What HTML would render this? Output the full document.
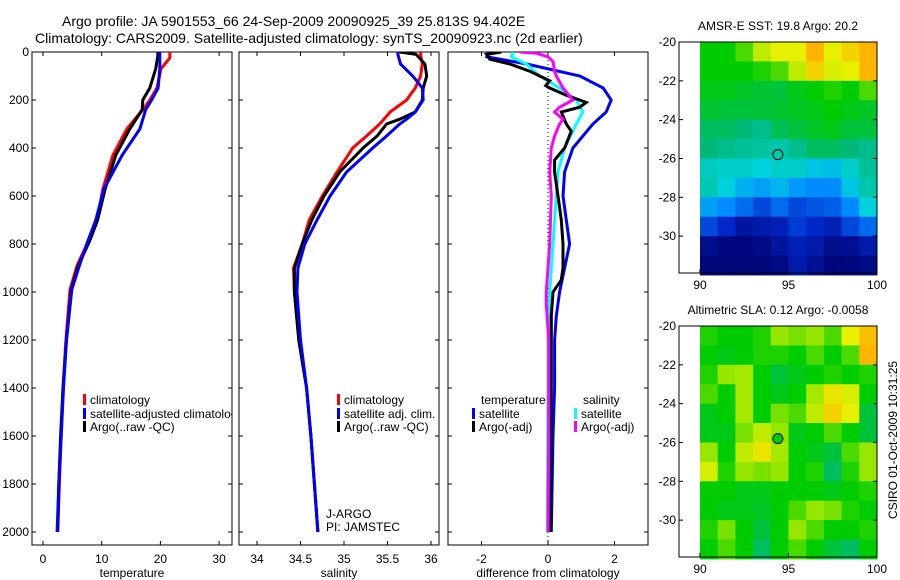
<!DOCTYPE html>
<html><head><meta charset="utf-8">
<style>
html,body{margin:0;padding:0;background:#fff;}
svg{display:block;font-family:"Liberation Sans",sans-serif;}
text{fill:#000;}
</style></head>
<body>
<svg id="fig" width="900" height="580" viewBox="0 0 900 580" xmlns="http://www.w3.org/2000/svg">
<defs>
<clipPath id="c1"><rect x="32" y="52" width="200" height="493"/></clipPath>
<clipPath id="c2"><rect x="239" y="52" width="200" height="493"/></clipPath>
<clipPath id="c3"><rect x="448" y="52" width="200" height="493"/></clipPath>
</defs>
<text x="62" y="26" font-size="14">Argo profile: JA 5901553_66 24-Sep-2009 20090925_39 25.813S 94.402E</text>
<text x="35" y="43" font-size="14">Climatology: CARS2009. Satellite-adjusted climatology: synTS_20090923.nc (2d earlier)</text>
<g id="g1"></g>
<g id="g2"></g>
<g id="g3"></g>
<g id="m1"></g>
<g id="m2"></g>
<text transform="translate(897,440) rotate(-90)" text-anchor="middle" font-size="12">CSIRO 01-Oct-2009 10:31:25</text>
</svg>
<script>
// ---- data ----
const tDepth = [0,25,70,150,200,240,320,430,570,700,790,890,990,1200,1400,1600,1800,2000];
const tClim  = [21.6,21.6,20.1,19.4,18.2,17.0,14.3,11.9,10.2,9.2,7.7,5.8,4.6,3.9,3.4,3.1,2.8,2.5];
const tSat   = [19.9,19.9,19.9,19.6,18.5,17.5,16.5,13.5,10.4,9.0,7.6,6.2,4.9,4.0,3.5,3.1,2.7,2.4];
const tArgo  = [19.6,19.5,19.2,18.2,17.0,16.9,14.8,12.4,10.6,9.3,7.9,6.0,4.8,4.0,3.4,3.0,2.7,2.5];
const sDepth = [0,10,50,100,150,200,250,280,300,350,400,500,600,700,800,900,1000,1200,1400,1600,1800,2000];
const sClim  = [35.88,35.88,35.9,35.88,35.82,35.72,35.53,35.46,35.41,35.26,35.1,34.92,34.75,34.6,34.52,34.42,34.43,34.48,34.57,34.62,34.66,34.70];
const sSat   = [35.62,35.62,35.65,35.79,35.9,35.91,35.82,35.72,35.64,35.49,35.33,35.03,34.84,34.69,34.55,34.47,34.46,34.5,34.57,34.62,34.66,34.70];
const sArgo  = [35.64,35.83,35.93,35.95,35.91,35.9,35.82,35.64,35.49,35.38,35.22,34.95,34.77,34.63,34.52,34.43,34.43,34.48,34.57,34.62,34.66,34.70];
const dDepthA = [0,10,30,50,80,100,120,140,150,180,200,210,230,250,300,330,400,450,500,600,700,800,900,950,1000,1100,1400,2000];
const dTempArgo = [-1.4,-1.85,-1.75,-1.15,-0.55,-0.25,0.05,-0.07,0.05,0.55,0.95,1.15,0.95,0.4,0.55,0.7,0.5,0.2,0.2,0.3,0.4,0.45,0.45,0.4,0.15,0.1,0.1,0.08];
const dDepthB = [0,20,50,100,150,200,250,300,400,500,600,700,800,900,1000,1100,1200,1400,1600,2000];
const dTempSat = [-1.8,-1.84,-0.64,0.96,1.66,1.9,1.75,1.35,0.75,0.5,0.45,0.55,0.65,0.5,0.35,0.25,0.2,0.2,0.15,0.1];
const dSalSat  = [-1.05,-1.1,-0.65,-0.25,0.35,0.85,1.05,0.85,0.5,0.3,0.25,0.2,0.15,0.1,0.05,0.02,0,0,-0.01,-0.02];
const dDepthC = [0,5,20,40,80,100,150,200,230,250,280,300,350,400,500,600,800,1000,1050,1200,1600,2000];
const dSalArgo = [-0.85,-0.35,0,0.15,0.2,0.25,0.45,0.75,0.35,0.2,0.45,0.35,0.2,0.1,0.05,0.1,0.05,-0.05,-0.05,0.02,0.02,0];
const depthTicks = [0,200,400,600,800,1000,1200,1400,1600,1800,2000];
const tTicks = [0,10,20,30];
const sTicks = [34,34.5,35,35.5,36];
const dTicks = [-2,0,2];
const latTicks = [-20,-22,-24,-26,-28,-30];
const lonTicks = [90,95,100];
const sstGrid = [
[0.6,0.6,0.65,0.75,0.8,0.8,0.9,0.8,0.85,0.9],
[0.6,0.6,0.6,0.62,0.65,0.75,0.85,0.78,0.8,0.9],
[0.58,0.58,0.57,0.56,0.55,0.58,0.6,0.62,0.6,0.65],
[0.56,0.55,0.55,0.55,0.56,0.57,0.58,0.6,0.58,0.57],
[0.52,0.52,0.5,0.48,0.53,0.55,0.57,0.58,0.55,0.55],
[0.5,0.48,0.47,0.46,0.45,0.48,0.52,0.52,0.5,0.48],
[0.43,0.42,0.42,0.4,0.42,0.42,0.38,0.37,0.42,0.47],
[0.44,0.4,0.35,0.33,0.36,0.32,0.3,0.3,0.38,0.45],
[0.33,0.3,0.25,0.2,0.25,0.2,0.22,0.23,0.3,0.4],
[0.2,0.15,0.08,0.1,0.12,0.18,0.15,0.12,0.2,0.25],
[0.05,0.03,0.02,0.04,0.08,0.12,0.1,0.05,0.06,0.1],
[0.02,0.02,0.02,0.02,0.04,0.1,0.06,0.02,0.03,0.04]];
const slaGrid = [
[0.62,0.6,0.6,0.62,0.7,0.68,0.7,0.65,0.8,0.88],
[0.6,0.58,0.6,0.62,0.62,0.6,0.65,0.6,0.65,0.9],
[0.62,0.7,0.72,0.6,0.55,0.58,0.6,0.62,0.6,0.62],
[0.65,0.6,0.72,0.6,0.58,0.6,0.72,0.82,0.78,0.6],
[0.58,0.6,0.72,0.6,0.68,0.65,0.75,0.85,0.8,0.55],
[0.58,0.58,0.68,0.75,0.7,0.58,0.6,0.65,0.6,0.55],
[0.7,0.6,0.75,0.82,0.72,0.6,0.58,0.55,0.65,0.7],
[0.78,0.62,0.7,0.68,0.7,0.6,0.62,0.52,0.62,0.7],
[0.6,0.6,0.58,0.58,0.6,0.6,0.6,0.58,0.6,0.62],
[0.6,0.58,0.58,0.57,0.6,0.65,0.7,0.68,0.62,0.6],
[0.62,0.68,0.6,0.55,0.6,0.7,0.65,0.6,0.6,0.62],
[0.6,0.65,0.6,0.52,0.6,0.65,0.6,0.55,0.52,0.6]];
const argoLon = 94.4, argoLat = -25.8;

// ---- helpers ----
const NS = "http://www.w3.org/2000/svg";
function mk(parent, tag, attrs, txt){
  const e = document.createElementNS(NS, tag);
  for (const k in attrs) e.setAttribute(k, attrs[k]);
  if (txt !== undefined) e.textContent = txt;
  parent.appendChild(e); return e;
}
const yD = d => 52 + d*0.24;

function panel(g, x0, x1, xFn, ticks, fmt, xlabel, clip, ylabels){
  const fr = mk(g,'rect',{x:x0,y:52,width:x1-x0,height:493,fill:'none',stroke:'#000','stroke-width':1});
  
  
  depthTicks.forEach(d=>{
    const y = yD(d);
    mk(g,'line',{x1:x0,y1:y,x2:x0+4,y2:y,stroke:'#000'});
    mk(g,'line',{x1:x1-4,y1:y,x2:x1,y2:y,stroke:'#000'});
    if (ylabels){
      const t = mk(g,'text',{x:x0-3,y:y+4,'font-size':12,'text-anchor':'end'}, String(d));
      
      
    }
  });
  ticks.forEach(v=>{
    const x = xFn(v);
    mk(g,'line',{x1:x,y1:545,x2:x,y2:541,stroke:'#000'});
    mk(g,'line',{x1:x,y1:52,x2:x,y2:56,stroke:'#000'});
    const t = mk(g,'text',{x:x,y:563,'font-size':12,'text-anchor':'middle'}, fmt(v));
    
    
  });
  const xl = mk(g,'text',{x:(x0+x1)/2,y:577,'font-size':12,'text-anchor':'middle'}, xlabel);
  
  
  return mk(g,'g',{'clip-path':'url(#'+clip+')'});
}
function line(g, xs, ds, xFn, color, w, name){
  const pts = xs.map((v,i)=>xFn(v).toFixed(1)+','+yD(ds[i]).toFixed(1)).join(' ');
  const p = mk(g,'polyline',{points:pts,fill:'none',stroke:color,'stroke-width':w,'stroke-linejoin':'miter'});
  
  
}
function legend(g, x, y, color, label){
  mk(g,'rect',{x:x,y:y-10,width:3,height:11,fill:color});
  const t = mk(g,'text',{x:x+7,y:y,'font-size':12}, label);
  
  
}

// Temperature
const xT = v => 43 + v*5.87;
const g1 = document.getElementById('g1');
const c1 = panel(g1, 32, 232, xT, tTicks, v=>String(v), 'temperature', 'c1', true);
line(c1, tClim, tDepth, xT, '#ff0000', 3, 'temp-climatology-line');
line(c1, tArgo, tDepth, xT, '#000000', 3, 'temp-argo-line');
line(c1, tSat, tDepth, xT, '#0000ff', 3, 'temp-satellite-line');
legend(c1, 83, 404, '#ff0000', 'climatology');
legend(c1, 83, 418, '#0000ff', 'satellite-adjusted climatology');
legend(c1, 83, 431, '#000000', 'Argo(..raw -QC)');

// Salinity
const xS = v => 257 + (v-34)*87;
const g2 = document.getElementById('g2');
const c2 = panel(g2, 239, 439, xS, sTicks, v=>String(v), 'salinity', 'c2', false);
line(c2, sClim, sDepth, xS, '#ff0000', 3, 'sal-climatology-line');
line(c2, sArgo, sDepth, xS, '#000000', 3, 'sal-argo-line');
line(c2, sSat, sDepth, xS, '#0000ff', 3, 'sal-satellite-line');
legend(c2, 337, 404, '#ff0000', 'climatology');
legend(c2, 337, 418, '#0000ff', 'satellite adj. clim.');
legend(c2, 337, 431, '#000000', 'Argo(..raw -QC)');
const j1 = mk(c2,'text',{x:326,y:518,'font-size':12},'J-ARGO');


const j2 = mk(c2,'text',{x:326,y:531,'font-size':12},'PI: JAMSTEC');



// Differences
const xDf = v => 548 + v*33.25;
const g3 = document.getElementById('g3');
const c3 = panel(g3, 448, 648, xDf, dTicks, v=>String(v), 'difference from climatology', 'c3', false);
const z = mk(c3,'line',{x1:xDf(0),y1:52,x2:xDf(0),y2:545,stroke:'#000','stroke-dasharray':'1,3'});


line(c3, dTempSat, dDepthB, xDf, '#0000ff', 3, 'diff-temp-satellite-line');
line(c3, dSalSat, dDepthB, xDf, '#00ffff', 3, 'diff-sal-satellite-line');
line(c3, dTempArgo, dDepthA, xDf, '#000000', 3, 'diff-temp-argo-line');
line(c3, dSalArgo, dDepthC, xDf, '#ff00ff', 3, 'diff-sal-argo-line');
const lt = mk(c3,'text',{x:481,y:404,'font-size':12},'temperature');


const ls = mk(c3,'text',{x:583,y:404,'font-size':12},'salinity');


legend(c3, 472, 418, '#0000ff', 'satellite');
legend(c3, 472, 431, '#000000', 'Argo(-adj)');
legend(c3, 574, 418, '#00ffff', 'satellite');
legend(c3, 574, 431, '#ff00ff', 'Argo(-adj)');

// Maps
const stops = [[0,[0,0,110]],[0.15,[0,40,200]],[0.3,[0,140,255]],[0.4,[0,210,220]],[0.5,[0,185,120]],[0.6,[0,205,0]],[0.7,[150,230,0]],[0.8,[230,240,0]],[0.9,[255,180,0]],[1,[240,100,0]]];
function cmap(v){
  for (let i=1;i<stops.length;i++){
    if (v<=stops[i][0]){
      const a=stops[i-1], b=stops[i], f=(v-a[0])/(b[0]-a[0]);
      const c=a[1].map((q,k)=>Math.round(q+(b[1][k]-q)*f));
      return 'rgb('+c.join(',')+')';
    }
  }
  return 'rgb(240,100,0)';
}
function map(id, top, bottom, grid, title, markerFill){
  const g = document.getElementById(id);
  const pxDeg = (bottom-top)/11.9;
  const xL = lon => 700 + (lon-90)*17.7;
  const yL = lat => top + (-20-lat)*pxDeg;
  grid.forEach((row,r)=>row.forEach((v,c)=>{
    const lon0 = 90 + c, lat0 = -20 - r;
    const cell = mk(g,'rect',{x:xL(lon0),y:yL(lat0),width:xL(lon0+1)-xL(lon0)+0.5,height:yL(lat0-1)-yL(lat0)+0.5,fill:cmap(v)});
    
    
  }));
  mk(g,'rect',{x:700,y:yL(-31.9),width:177,height:bottom-yL(-31.9),fill:cmap(grid[grid.length-1][0])});
  const fr = mk(g,'rect',{x:679,y:top,width:198,height:bottom-top,fill:'none',stroke:'#000'});
  
  
  latTicks.forEach(l=>{
    const y = yL(l);
    mk(g,'line',{x1:679,y1:y,x2:683,y2:y,stroke:'#000'});
    mk(g,'line',{x1:873,y1:y,x2:877,y2:y,stroke:'#000'});
    const t = mk(g,'text',{x:676,y:y+4,'font-size':12,'text-anchor':'end'}, String(l));
    
    
  });
  lonTicks.forEach(l=>{
    const x = xL(l);
    mk(g,'line',{x1:x,y1:bottom,x2:x,y2:bottom-4,stroke:'#000'});
    const t = mk(g,'text',{x:x,y:bottom+16,'font-size':12,'text-anchor':'middle'}, String(l));
    
    
  });
  const tt = mk(g,'text',{x:778,y:top-12,'font-size':12,'text-anchor':'middle'}, title);
  
  
  const m = mk(g,'circle',{cx:xL(argoLon),cy:yL(argoLat),r:5,fill:markerFill,stroke:'#000'});
  
  
}
map('m1', 42, 273, sstGrid, 'AMSR-E SST: 19.8 Argo: 20.2', 'none');
map('m2', 326, 557, slaGrid, 'Altimetric SLA: 0.12 Argo: -0.0058', cmap(0.6));
</script>
</body></html>
